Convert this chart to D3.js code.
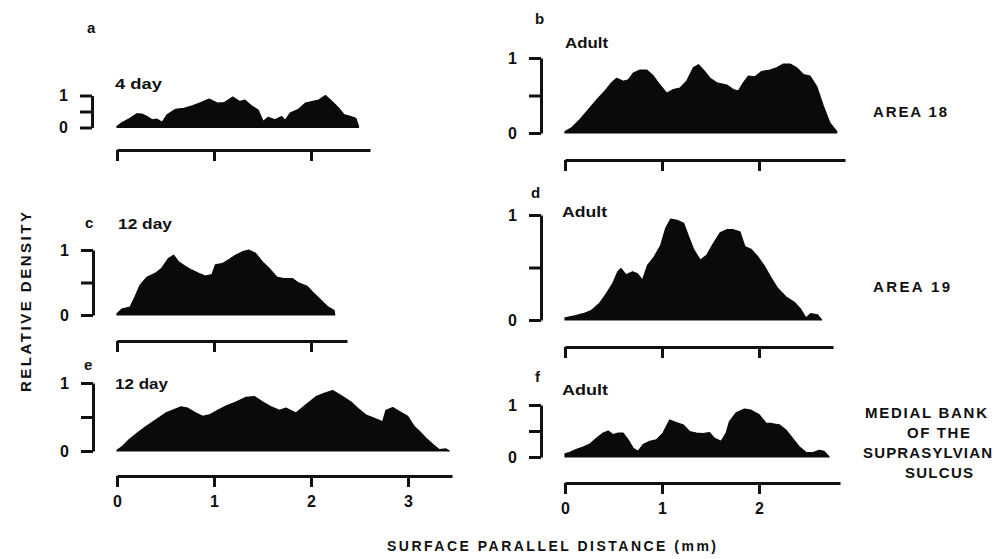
<!DOCTYPE html>
<html>
<head>
<meta charset="utf-8">
<script src="https://cdn.jsdelivr.net/npm/d3@7"></script>
<style>
  html, body { margin: 0; padding: 0; background: #fff; }
  svg { display: block; }
  text { font-family: "Liberation Sans", Arial, Helvetica, sans-serif; font-weight: bold; fill: #111; }
</style>
</head>
<body>
<div id="chart"></div>
<script>
// ---------------- DATA ----------------
const panelLetters = ["a", "b", "c", "d", "e", "f"];
const panelAges = ["4 day", "Adult", "12 day", "Adult", "12 day", "Adult"];
const regionLabels = ["AREA 18", "AREA 19"];
const medialLines = ["MEDIAL BANK", "OF THE", "SUPRASYLVIAN", "SULCUS"];
const xTickValues = [0, 1, 2, 3];
const yTickValues = [0, 0.5, 1];
const yTickLabels = ["0", "", "1"];
const yAxisTitle = "RELATIVE DENSITY";
const xAxisTitle = "SURFACE PARALLEL DISTANCE (mm)";

// Panel a: 4 day, area 18
const aDist = [0, .05, .135, .205, .257, .309, .361, .413, .465, .517, .604, .691, .778, .865, .951, 1.038, 1.108, 1.194, 1.264, 1.316, 1.385, 1.455, 1.507, 1.559, 1.628, 1.698, 1.733, 1.785, 1.872, 1.941, 2.01, 2.08, 2.149, 2.219, 2.288, 2.34, 2.41, 2.462, 2.49];
const aDens = [.03, .15, .29, .43, .42, .34, .24, .26, .16, .40, .57, .60, .68, .78, .89, .76, .78, .95, .81, .86, .68, .55, .19, .32, .24, .34, .22, .45, .57, .76, .81, .86, 1.0, .81, .60, .40, .34, .29, .03];

// Panel b: adult, area 18
const bDist = [0, .069, .155, .241, .326, .412, .481, .533, .601, .653, .704, .773, .842, .911, .979, 1.048, 1.117, 1.186, 1.254, 1.323, 1.375, 1.426, 1.495, 1.564, 1.667, 1.735, 1.787, 1.838, 1.890, 1.959, 2.027, 2.113, 2.182, 2.251, 2.320, 2.388, 2.457, 2.526, 2.595, 2.663, 2.732, 2.801];
const bDens = [.02, .07, .18, .31, .44, .56, .67, .73, .69, .71, .80, .84, .84, .76, .64, .53, .58, .60, .69, .87, .91, .84, .73, .67, .64, .58, .56, .67, .76, .75, .82, .84, .87, .92, .92, .87, .78, .76, .62, .36, .13, .02];

// Panel c: 12 day, area 19
const cDist = [0, .048, .134, .186, .238, .307, .393, .462, .531, .583, .634, .703, .772, .841, .910, .979, 1.014, 1.083, 1.152, 1.221, 1.290, 1.359, 1.428, 1.497, 1.566, 1.652, 1.721, 1.807, 1.876, 1.962, 2.031, 2.1, 2.169, 2.238, 2.245];
const cDens = [.02, .09, .12, .28, .46, .58, .64, .72, .87, .92, .82, .75, .69, .64, .60, .62, .77, .79, .85, .92, .97, 1.0, .95, .82, .72, .58, .56, .56, .49, .44, .33, .23, .13, .07, 0];

// Panel d: adult, area 19
const dDist = [0, .102, .187, .272, .357, .425, .493, .544, .578, .629, .697, .748, .799, .850, .918, .986, 1.037, 1.088, 1.156, 1.224, 1.276, 1.327, 1.395, 1.463, 1.531, 1.599, 1.667, 1.735, 1.803, 1.854, 1.922, 1.990, 2.058, 2.126, 2.194, 2.279, 2.364, 2.432, 2.483, 2.534, 2.602, 2.646];
const dDens = [.02, .04, .06, .09, .16, .25, .35, .46, .49, .43, .46, .44, .38, .52, .60, .71, .87, .96, .95, .92, .79, .67, .57, .62, .73, .83, .86, .86, .84, .70, .67, .60, .51, .40, .30, .22, .17, .10, .02, .06, .05, 0];

// Panel e: 12 day, medial bank
const eDist = [0, .058, .127, .213, .299, .402, .505, .591, .660, .729, .814, .883, .952, 1.038, 1.124, 1.227, 1.330, 1.416, 1.502, 1.588, 1.674, 1.742, 1.845, 1.948, 2.052, 2.137, 2.223, 2.326, 2.412, 2.481, 2.567, 2.653, 2.739, 2.773, 2.842, 2.911, 2.997, 3.065, 3.117, 3.186, 3.254, 3.323, 3.392, 3.426];
const eDens = [.01, .07, .17, .27, .36, .46, .56, .61, .65, .63, .56, .51, .53, .60, .66, .72, .79, .80, .72, .65, .60, .63, .56, .68, .80, .85, .89, .80, .72, .63, .53, .48, .43, .60, .64, .58, .51, .36, .29, .19, .10, .02, .03, 0];

// Panel f: adult, medial bank
const fDist = [0, .051, .120, .188, .257, .325, .394, .445, .497, .548, .599, .651, .702, .753, .805, .873, .942, 1.010, 1.079, 1.147, 1.216, 1.284, 1.353, 1.421, 1.490, 1.541, 1.610, 1.661, 1.695, 1.764, 1.849, 1.918, 2.003, 2.072, 2.140, 2.209, 2.277, 2.346, 2.414, 2.483, 2.551, 2.620, 2.671, 2.723];
const fDens = [.06, .09, .15, .19, .25, .36, .46, .50, .43, .46, .46, .33, .17, .11, .24, .30, .33, .46, .71, .66, .62, .49, .46, .45, .47, .36, .30, .46, .68, .85, .92, .90, .81, .65, .64, .62, .52, .36, .20, .09, .08, .13, .11, 0];

const panelDist = [aDist, bDist, cDist, dDist, eDist, fDist];
const panelDens = [aDens, bDens, cDens, dDens, eDens, fDens];

// ---------------- LAYOUT ----------------
const W = 995, H = 559;
const pxPerMm = 97;
const layout = [
  { x0: 117, xEnd: 370, yAx: 92,  yTop: 95.5, yBot: 127.5, xAxY: 150, labels: false, letter: [87, 33],  age: [115, 89],  ageW: 47 },
  { x0: 565, xEnd: 845, yAx: 541, yTop: 58,   yBot: 133,   xAxY: 160, labels: false, letter: [535, 24], age: [565, 48],  ageW: 43 },
  { x0: 117, xEnd: 347, yAx: 93,  yTop: 250,  yBot: 315,   xAxY: 341, labels: false, letter: [85, 228], age: [118, 229], ageW: 54 },
  { x0: 565, xEnd: 833, yAx: 541, yTop: 215,  yBot: 320,   xAxY: 347, labels: false, letter: [531, 198], age: [562, 217], ageW: 45 },
  { x0: 117, xEnd: 452, yAx: 93,  yTop: 383,  yBot: 451,   xAxY: 476, labels: true,  letter: [84, 370], age: [115, 389], ageW: 53 },
  { x0: 565, xEnd: 840, yAx: 541, yTop: 405,  yBot: 457,   xAxY: 483, labels: true,  letter: [535, 382], age: [562, 395], ageW: 46 }
];

const svg = d3.select("#chart").append("svg")
  .attr("width", W).attr("height", H).attr("viewBox", `0 0 ${W} ${H}`);
svg.append("rect").attr("width", W).attr("height", H).attr("fill", "#fff");

const ink = "#111";

layout.forEach((L, i) => {
  const g = svg.append("g");
  const x = d3.scaleLinear().domain([0, (L.xEnd - L.x0) / pxPerMm]).range([L.x0, L.xEnd]);
  const y = d3.scaleLinear().domain([0, 1]).range([L.yBot, L.yTop]);
  const pts = panelDist[i].map((d, k) => [d, panelDens[i][k]]);

  // filled density profile
  const area = d3.area()
    .x(d => x(d[0]))
    .y0(y(0))
    .y1(d => y(d[1]))
    .curve(d3.curveLinear);
  g.append("path").datum(pts).attr("d", area).attr("fill", "#0a0a0a").attr("stroke", "#0a0a0a").attr("stroke-width", 1.2).attr("stroke-linejoin", "round");

  // y-axis bracket
  const yAxis = d3.axisLeft(y).tickValues(yTickValues).tickSize(12).tickSizeOuter(0).tickPadding(12)
    .tickFormat(d => yTickLabels[yTickValues.indexOf(d)]);
  const gy = g.append("g").attr("transform", `translate(${L.yAx},0)`).call(yAxis);
  gy.selectAll("path, line").attr("stroke", ink).attr("stroke-width", 3);
  gy.selectAll("text").attr("font-size", 16).attr("fill", ink)
    .style("font-family", '"Liberation Sans", Arial, sans-serif').style("font-weight", "bold");

  // x-axis ruler
  const xAxis = d3.axisBottom(x).tickValues(xTickValues.filter(v => v <= x.domain()[1])).tickSize(11).tickSizeOuter(0).tickPadding(9)
    .tickFormat(d => L.labels ? d3.format("d")(d) : "");
  const gx = g.append("g").attr("transform", `translate(0,${L.xAxY})`).call(xAxis);
  gx.selectAll("path, line").attr("stroke", ink).attr("stroke-width", 3);
  gx.selectAll("text").attr("font-size", 16).attr("fill", ink)
    .style("font-family", '"Liberation Sans", Arial, sans-serif').style("font-weight", "bold");

  // panel letter and age label
  g.append("text").attr("x", L.letter[0]).attr("y", L.letter[1]).attr("font-size", 15).text(panelLetters[i]);
  g.append("text").attr("x", L.age[0]).attr("y", L.age[1]).attr("font-size", 15)
    .attr("textLength", L.ageW).attr("lengthAdjust", "spacingAndGlyphs").text(panelAges[i]);
});

// region labels on the right
const regionPos = [[873, 117, 74], [873, 292, 77]];
regionLabels.forEach((t, i) => {
  svg.append("text").attr("x", regionPos[i][0]).attr("y", regionPos[i][1]).attr("font-size", 15)
    .attr("textLength", regionPos[i][2]).attr("lengthAdjust", "spacing").text(t);
});
const medialPos = [[865, 418, 122], [907, 438, 63], [863, 458, 129], [905, 478, 68]];
medialLines.forEach((t, i) => {
  svg.append("text").attr("x", medialPos[i][0]).attr("y", medialPos[i][1]).attr("font-size", 15)
    .attr("textLength", medialPos[i][2]).attr("lengthAdjust", "spacing").text(t);
});

// axis titles
svg.append("text").attr("transform", "translate(31,302) rotate(-90)").attr("text-anchor", "middle")
  .attr("font-size", 15).attr("textLength", 180).attr("lengthAdjust", "spacing").text(yAxisTitle);
svg.append("text").attr("x", 387).attr("y", 551).attr("font-size", 14)
  .attr("textLength", 329).attr("lengthAdjust", "spacing").text(xAxisTitle);
</script>
</body>
</html>
